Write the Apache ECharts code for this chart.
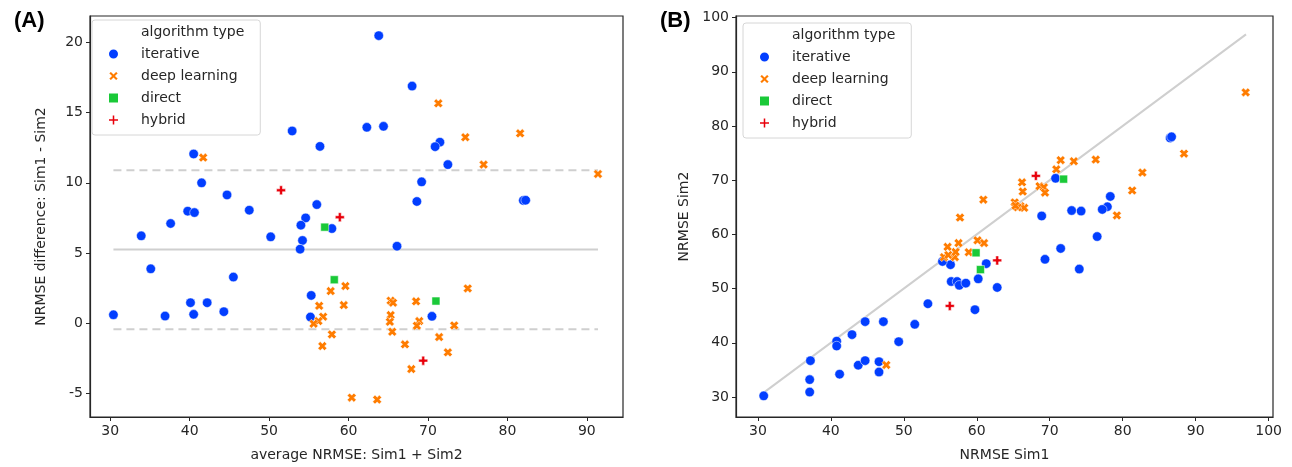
<!DOCTYPE html>
<html>
<head>
<meta charset="utf-8">
<script src="https://cdn.jsdelivr.net/npm/echarts@6/dist/echarts.min.js"></script>
<style>
  html, body { margin: 0; padding: 0; background: #fff; }
  #chart { width: 1292px; height: 467px; }
</style>
</head>
<body>
<div id="chart"></div>
<script>
// panel A: [average NRMSE, difference Sim1 - Sim2]
const iterativeA = [
  [52.9, 13.7], [56.4, 12.6], [40.5, 12.06], [41.5, 10.0], [44.7, 9.14], [56.0, 8.45],
  [47.5, 8.05], [39.75, 7.98], [40.6, 7.88], [54.6, 7.5], [37.6, 7.1], [54.0, 6.98],
  [57.9, 6.74], [33.9, 6.22], [50.2, 6.15], [54.2, 5.89], [53.9, 5.27], [35.1, 3.87],
  [45.5, 3.28], [55.3, 1.97], [40.1, 1.45], [42.2, 1.45], [44.3, 0.81], [40.5, 0.62],
  [30.4, 0.59], [36.9, 0.5], [55.2, 0.43], [63.8, 20.5], [68.0, 16.9], [62.3, 13.96],
  [64.4, 14.03], [71.5, 12.9], [70.9, 12.58], [72.5, 11.3], [69.2, 10.07], [68.6, 8.67],
  [82.0, 8.74], [82.3, 8.76], [66.1, 5.48], [70.5, 0.48]
];
const deepA = [
  [41.7, 11.8], [59.6, 2.64], [57.75, 2.28], [56.3, 1.23], [59.4, 1.28], [56.8, 0.45],
  [56.2, 0.14], [55.6, -0.05], [57.9, -0.81], [56.7, -1.64], [60.4, -5.32], [71.3, 15.67],
  [74.7, 13.25], [81.6, 13.53], [77.0, 11.3], [91.4, 10.63], [75.0, 2.47], [65.3, 1.6],
  [65.6, 1.45], [68.5, 1.55], [65.3, 0.57], [65.2, 0.09], [68.9, 0.14], [68.6, -0.19],
  [73.3, -0.17], [65.5, -0.62], [71.4, -1.0], [67.1, -1.52], [72.5, -2.09], [67.9, -3.28],
  [63.6, -5.46]
];
const directA = [[57.0, 6.84], [58.2, 3.09], [71.0, 1.57]];
const hybridA = [[51.5, 9.47], [58.9, 7.55], [69.4, -2.68]];

// agreement lines of panel A
const meanDiff = 5.25;
const upperLimit = 10.9;
const lowerLimit = -0.45;
const avgRange = [30.4, 91.4];

// panel B: [NRMSE Sim1, NRMSE Sim2]
const iterativeB = [
  [30.8, 30.2], [37.1, 30.9], [37.1, 33.2], [37.2, 36.7], [41.2, 34.2], [43.75, 35.85],
  [44.7, 36.7], [46.6, 36.5], [46.6, 34.6], [40.8, 40.3], [40.8, 39.4], [42.9, 41.5],
  [44.7, 43.9], [47.2, 43.9], [49.3, 40.2], [51.5, 43.4], [53.3, 47.2], [59.75, 46.1],
  [62.8, 50.2], [56.5, 51.3], [57.3, 51.3], [57.6, 50.6], [58.5, 51.0], [60.2, 51.8],
  [61.3, 54.6], [56.4, 54.4], [55.3, 55.0], [86.5, 77.8], [86.7, 78.0], [78.3, 67.0],
  [77.9, 65.1], [77.2, 64.6], [74.3, 64.3], [73.0, 64.4], [68.9, 63.4], [70.8, 70.35],
  [76.5, 59.6], [71.5, 57.4], [69.35, 55.4], [74.05, 53.6]
];
const deepB = [
  [47.6, 35.9], [55.5, 55.8], [56.1, 56.2], [57.0, 55.8], [57.1, 56.75], [56.0, 57.7],
  [57.5, 58.4], [58.9, 56.7], [60.1, 58.9], [61.0, 58.4], [60.9, 66.4], [57.7, 63.1],
  [96.85, 86.2], [88.4, 74.9], [82.7, 71.4], [81.3, 68.1], [79.2, 63.5], [76.3, 73.8],
  [73.3, 73.5], [71.5, 73.7], [70.9, 72.0], [66.2, 69.6], [68.6, 68.9], [69.2, 68.7],
  [69.35, 67.7], [66.3, 67.9], [65.2, 65.9], [66.0, 65.2], [66.5, 64.9], [65.6, 65.0],
  [65.3, 65.3]
];
const directB = [[60.5, 53.5], [59.9, 56.6], [71.9, 70.2]];
const hybridB = [[56.3, 46.8], [62.8, 55.2], [68.1, 70.8]];

// identity line of panel B
const identityRange = [30.8, 96.9];

const ticksAx = [30, 40, 50, 60, 70, 80, 90];
const ticksAy = [-5, 0, 5, 10, 15, 20];
const ticksBx = [30, 40, 50, 60, 70, 80, 90, 100];
const ticksBy = [30, 40, 50, 60, 70, 80, 90, 100];

const FONT = 'DejaVu Sans';
const INK = '#262626';
// chunky filled X and plus, like the seaborn markers
const symX = 'path://M2.6,0 L5,2.4 L7.4,0 L10,2.6 L7.6,5 L10,7.4 L7.4,10 L5,7.6 L2.6,10 L0,7.4 L2.4,5 L0,2.6 Z';
const symPlus = 'path://M3.4,0 H6.6 V3.4 H10 V6.6 H6.6 V10 H3.4 V6.6 H0 V3.4 H3.4 Z';
const symSquare = 'path://M0,0 H10 V10 H0 Z';

const groups = [
  { name: 'iterative', color: '#023eff', symbol: 'circle', size: 9.5 },
  { name: 'deep learning', color: '#ff7c00', symbol: symX, size: 9 },
  { name: 'direct', color: '#1ac938', symbol: symSquare, size: 8 },
  { name: 'hybrid', color: '#e8000b', symbol: symPlus, size: 9 }
];

const chart = echarts.init(document.getElementById('chart'));

function axis(gridIndex, min, max, ticks, name, nameGap) {
  return {
    type: 'value', gridIndex, min, max, name, nameGap,
    nameLocation: 'middle',
    nameTextStyle: { fontFamily: FONT, fontSize: 14, color: INK },
    axisLine: { show: true, onZero: false, lineStyle: { color: INK, width: 1.2 } },
    axisTick: { show: true, length: 4, customValues: ticks, lineStyle: { color: INK } },
    axisLabel: { customValues: ticks, fontFamily: FONT, fontSize: 14, color: INK, margin: 7 },
    splitLine: { show: false }
  };
}

function scatter(g, data, idx) {
  return {
    type: 'scatter', name: g.name, data,
    xAxisIndex: idx, yAxisIndex: idx,
    symbol: g.symbol, symbolSize: g.size, symbolKeepAspect: true,
    itemStyle: { color: g.color, borderColor: '#fff', borderWidth: 0.5, opacity: 1 },
    z: 3
  };
}

function refLine(data, idx, type) {
  return {
    type: 'line', data, xAxisIndex: idx, yAxisIndex: idx,
    symbol: 'none', silent: true, z: 1,
    lineStyle: { color: '#cfcfcf', width: 2, type }
  };
}

function legend(left, top) {
  return {
    left, top, orient: 'vertical', selectedMode: false,
    itemWidth: 11, itemHeight: 11, itemGap: 8,
    padding: [5, 16, 8, 15],
    backgroundColor: 'rgba(255,255,255,0.85)',
    borderColor: '#d6d6d6', borderWidth: 1, borderRadius: 3,
    textStyle: { fontFamily: FONT, fontSize: 14, color: INK, padding: [0, 0, 0, 17] },
    data: [{ name: 'algorithm type', itemStyle: { opacity: 0 } }].concat(groups.map(g => g.name))
  };
}

const seriesA = [iterativeA, deepA, directA, hybridA];
const seriesB = [iterativeB, deepB, directB, hybridB];

const panelTitle = { fontFamily: 'Liberation Sans', fontSize: 22, fontWeight: 'bold', color: '#000' };

const option = {
  animation: false,
  textStyle: { fontFamily: FONT },
  title: [
    { text: '(A)', left: 9, top: 5, textStyle: panelTitle },
    { text: '(B)', left: 655, top: 5, textStyle: panelTitle }
  ],
  grid: [
    { left: 90, top: 16, width: 533, height: 401, show: true, borderColor: INK, borderWidth: 1.2, backgroundColor: 'transparent' },
    { left: 736, top: 16, width: 537, height: 401, show: true, borderColor: INK, borderWidth: 1.2, backgroundColor: 'transparent' }
  ],
  xAxis: [
    axis(0, 27.45, 94.55, ticksAx, 'average NRMSE: Sim1 + Sim2', 31),
    axis(1, 27.0, 100.6, ticksBx, 'NRMSE Sim1', 31)
  ],
  yAxis: [
    axis(0, -6.7, 21.9, ticksAy, 'NRMSE difference: Sim1 - Sim2', 42),
    axis(1, 26.3, 100.3, ticksBy, 'NRMSE Sim2', 45)
  ],
  legend: [legend(92, 20), legend(743, 23)],
  series: [
    { type: 'scatter', name: 'algorithm type', data: [], xAxisIndex: 0, yAxisIndex: 0 },
    refLine([[avgRange[0], meanDiff], [avgRange[1], meanDiff]], 0, 'solid'),
    refLine([[avgRange[0], upperLimit], [avgRange[1], upperLimit]], 0, [8, 5]),
    refLine([[avgRange[0], lowerLimit], [avgRange[1], lowerLimit]], 0, [8, 5]),
    refLine([[identityRange[0], identityRange[0]], [identityRange[1], identityRange[1]]], 1, 'solid')
  ]
    .concat(groups.map((g, i) => scatter(g, seriesA[i], 0)))
    .concat(groups.map((g, i) => scatter(g, seriesB[i], 1)))
};

chart.setOption(option);
</script>
</body>
</html>
